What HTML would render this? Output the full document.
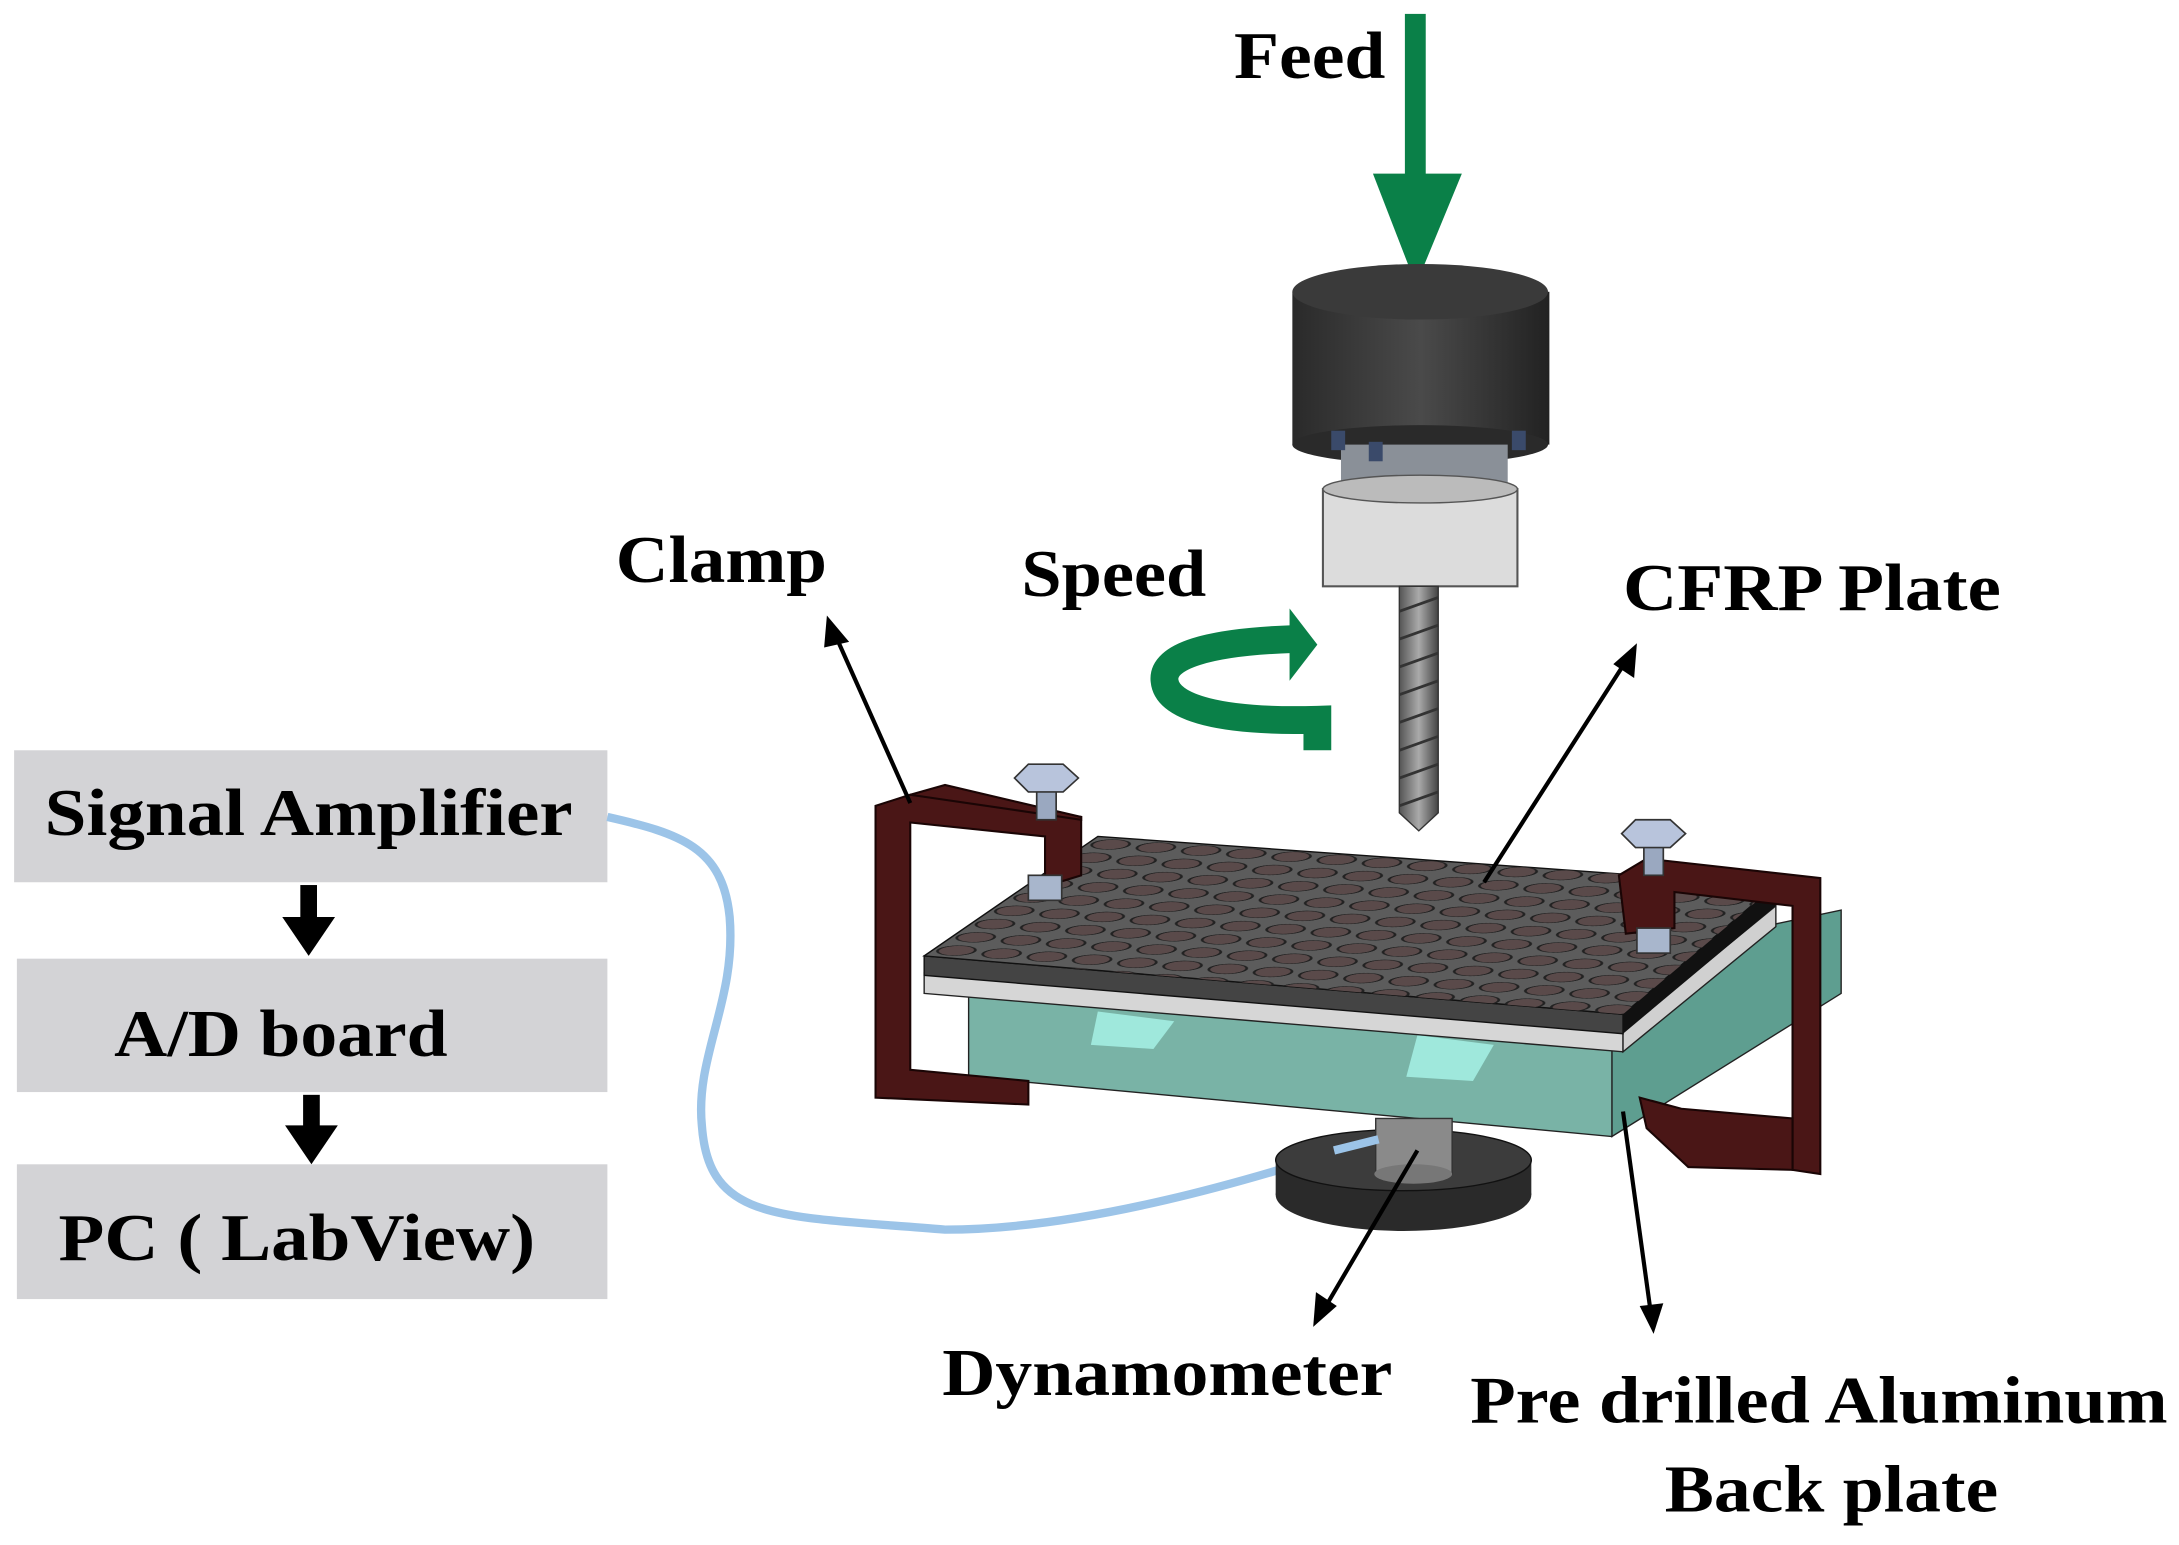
<!DOCTYPE html>
<html><head><meta charset="utf-8"><style>
html,body{margin:0;padding:0;background:#fff;}
svg{display:block}
text{font-family:"Liberation Serif",serif;font-weight:bold;fill:#000;}
</style></head><body>
<svg width="2179" height="1545" viewBox="0 0 1568 1112" xmlns="http://www.w3.org/2000/svg">
<defs>
<pattern id="holes" patternUnits="userSpaceOnUse" width="0.0667" height="0.111" patternTransform="matrix(488 33 -125 86 790 602)">
<ellipse cx="0.033" cy="0.055" rx="0.026" ry="0.04" fill="#5a4a4a" stroke="#222" stroke-width="0.004"/>
</pattern>
<linearGradient id="cyl" x1="0" x2="1"><stop offset="0" stop-color="#2a2a2a"/><stop offset="0.5" stop-color="#4a4a4a"/><stop offset="1" stop-color="#222"/></linearGradient>
<linearGradient id="drl" x1="0" x2="1"><stop offset="0" stop-color="#555"/><stop offset="0.5" stop-color="#aaa"/><stop offset="1" stop-color="#444"/></linearGradient>
</defs>

<!-- Left flow boxes -->
<rect x="10" y="540" width="427" height="95" fill="#d3d3d6"/>
<rect x="12" y="690" width="425" height="96" fill="#d3d3d6"/>
<rect x="12" y="838" width="425" height="97" fill="#d3d3d6"/>
<text x="32" y="601" font-size="48" textLength="380" lengthAdjust="spacingAndGlyphs">Signal Amplifier</text>
<text x="82" y="760" font-size="48" textLength="240" lengthAdjust="spacingAndGlyphs">A/D board</text>
<text x="42" y="907" font-size="48" textLength="343" lengthAdjust="spacingAndGlyphs">PC ( LabView)</text>
<rect x="216" y="637" width="12" height="25" fill="#000"/>
<polygon points="203,660 241,660 222,688" fill="#000"/>
<rect x="218" y="788" width="12" height="25" fill="#000"/>
<polygon points="205,810 243,810 224,838" fill="#000"/>

<!-- cable -->
<path d="M437,588 C490,600 520,610 525,660 C530,720 500,760 505,810 C510,880 560,875 680,885 C780,885 900,850 990,820" fill="none" stroke="#9cc4e8" stroke-width="6"/>

<!-- Feed -->
<text x="888" y="56" font-size="48" textLength="109" lengthAdjust="spacingAndGlyphs">Feed</text>
<rect x="1011" y="10" width="15" height="118" fill="#0a8048"/>
<polygon points="988,125 1052,125 1019,205" fill="#0a8048"/>

<!-- spindle -->
<rect x="930" y="210" width="185" height="110" fill="url(#cyl)"/>
<ellipse cx="1022" cy="210" rx="92" ry="20" fill="#3a3a3a"/>
<ellipse cx="1022" cy="320" rx="92" ry="14" fill="#2a2a2a"/>
<rect x="965" y="320" width="120" height="30" fill="#8a9098"/>
<rect x="958" y="310" width="10" height="14" fill="#3a4a6a"/><rect x="1088" y="310" width="10" height="14" fill="#3a4a6a"/>
<rect x="985" y="318" width="10" height="14" fill="#3a4a6a"/>
<rect x="952" y="352" width="140" height="70" fill="#dcdcdc" stroke="#555" stroke-width="1.5"/>
<ellipse cx="1022" cy="352" rx="70" ry="10" fill="#bbb" stroke="#555"/>
<polygon points="1007,422 1035,422 1035,585 1021,598 1007,585" fill="url(#drl)" stroke="#333"/>
<g stroke="#333" stroke-width="2">
<line x1="1007" y1="440" x2="1035" y2="430"/><line x1="1007" y1="460" x2="1035" y2="450"/><line x1="1007" y1="480" x2="1035" y2="470"/><line x1="1007" y1="500" x2="1035" y2="490"/><line x1="1007" y1="520" x2="1035" y2="510"/><line x1="1007" y1="540" x2="1035" y2="530"/><line x1="1007" y1="560" x2="1035" y2="550"/><line x1="1007" y1="580" x2="1035" y2="570"/></g>

<!-- speed -->
<text x="735" y="429" font-size="48" textLength="133" lengthAdjust="spacingAndGlyphs">Speed</text>
<path d="M948,540 L948,518 C880,520 840,510 838,490 C836,472 870,462 930,460" fill="none" stroke="#0a8048" stroke-width="20"/>
<polygon points="928,438 948,464 928,490" fill="#0a8048"/>

<!-- green dynamometer box -->
<polygon points="1160,690 1325,655 1325,715 1160,818" fill="#5e9e90" stroke="#222"/>
<polygon points="697,710 1160,752 1160,818 697,775" fill="#79b3a6" stroke="#222"/>
<polygon points="790,728 845,735 830,755 785,752" fill="#9fe8dc"/>
<polygon points="1020,745 1075,752 1060,778 1012,775" fill="#9fe8dc"/>
<!-- white strip -->
<polygon points="665,700 1168,742 1168,757 665,715" fill="#d6d6d6" stroke="#222"/>
<polygon points="1168,742 1278,652 1278,667 1168,757" fill="#d0d0d0" stroke="#222"/>
<!-- CFRP plate -->
<polygon points="665,688 1168,730 1168,744 665,702" fill="#444" stroke="#111"/>
<polygon points="1168,730 1278,637 1278,652 1168,744" fill="#111"/>
<polygon points="790,602 1278,637 1168,730 665,688" fill="#5c5c5c" stroke="#111"/>
<polygon points="790,602 1278,637 1168,730 665,688" fill="url(#holes)"/>

<!-- left clamp -->
<g fill="#4a1616" stroke="#1a0505" stroke-width="1.5">
<polygon points="630,580 655,572 778,588 778,630 752,638 752,602 655,592 655,770 740,778 740,795 630,790"/>
<polygon points="655,572 680,565 778,588 778,590"/>
</g>
<!-- right clamp -->
<g fill="#4a1616" stroke="#1a0505" stroke-width="1.5">
<polygon points="1165,630 1185,618 1310,632 1310,845 1290,842 1290,652 1205,642 1205,668 1170,672"/>
<polygon points="1180,790 1210,798 1290,805 1290,842 1215,840 1185,812"/>
</g>
<!-- bolts -->
<g stroke="#333" stroke-width="1.2">
<rect x="746" y="565" width="14" height="25" fill="#9aa8c0"/>
<polygon points="730,560 740,550 765,550 776,560 765,570 740,570" fill="#b8c4dc"/>
<rect x="740" y="630" width="24" height="18" fill="#a8b6cc"/>
<rect x="1183" y="605" width="14" height="25" fill="#9aa8c0"/>
<polygon points="1167,600 1177,590 1202,590 1213,600 1202,610 1177,610" fill="#b8c4dc"/>
<rect x="1178" y="668" width="24" height="18" fill="#a8b6cc"/>
</g>

<!-- dynamometer base -->
<ellipse cx="1010" cy="860" rx="92" ry="26" fill="#2a2a2a"/>
<rect x="918" y="835" width="184" height="25" fill="#2a2a2a"/>
<ellipse cx="1010" cy="835" rx="92" ry="22" fill="#3c3c3c" stroke="#111"/>
<rect x="990" y="805" width="55" height="40" fill="#8a8a8a" stroke="#333"/>
<ellipse cx="1017" cy="845" rx="28" ry="7" fill="#777"/>
<path d="M960,828 L992,820" stroke="#9cc4e8" stroke-width="6"/>

<!-- labels -->
<text x="443" y="419" font-size="48" textLength="152" lengthAdjust="spacingAndGlyphs">Clamp</text>
<text x="1168" y="439" font-size="48" textLength="272" lengthAdjust="spacingAndGlyphs">CFRP Plate</text>
<text x="678" y="1004" font-size="48" textLength="324" lengthAdjust="spacingAndGlyphs">Dynamometer</text>
<text x="1058" y="1024" font-size="48" textLength="502" lengthAdjust="spacingAndGlyphs">Pre drilled Aluminum</text>
<text x="1198" y="1088" font-size="48" textLength="240" lengthAdjust="spacingAndGlyphs">Back plate</text>

<!-- leader arrows -->
<g stroke="#000" stroke-width="3">
<line x1="655" y1="578" x2="601" y2="457"/>
<line x1="1068" y1="635" x2="1170" y2="476"/>
<line x1="1020" y1="828" x2="953" y2="942"/>
<line x1="1168" y1="800" x2="1188" y2="945"/>
</g>
<polygon points="595,443 611,462 593,466" fill="#000"/>
<polygon points="1178,463 1176,488 1161,478" fill="#000"/>
<polygon points="945,955 947,930 962,940" fill="#000"/>
<polygon points="1190,960 1180,940 1197,938" fill="#000"/>
</svg>
</body></html>
